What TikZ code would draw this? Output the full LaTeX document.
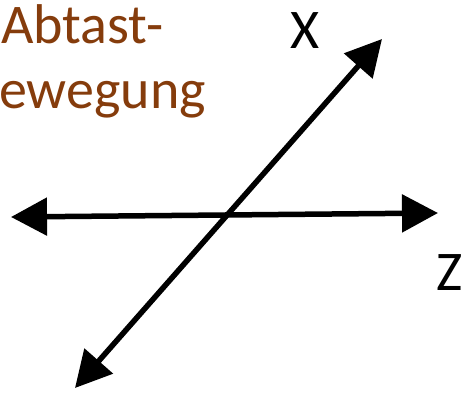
\documentclass[tikz,border=0pt]{standalone}
\usepackage{fontspec}
\setmainfont{Carlito}
\usetikzlibrary{arrows.meta}
\definecolor{abbraun}{RGB}{133,60,12}

\begin{document}
\begin{tikzpicture}[
    x=1pt, y=-1pt,
    achse/.style={line width=5.5pt, {Triangle[length=36pt,width=37pt]}-{Triangle[length=36pt,width=37pt]}},
    lab/.style={inner sep=0pt, anchor=base west, font=\fontsize{56}{67}\selectfont},
    titel/.style={lab, text=abbraun},
]
\useasboundingbox (0,0) rectangle (464,392);

% Achsenenden
\coordinate (zl) at (11,217);
\coordinate (zr) at (438,213);
\coordinate (xu) at (75,388);
\coordinate (xo) at (382,39);

% Achsen
\draw[achse] (zl) -- (zr);
\draw[achse] (xu) -- (xo);

% Beschriftung
\node[lab] (xlab) at (290,48) {X};
\node[lab] (zlab) at (436,290) {Z};
\node[titel] (t1) at (1,43) {Abtast-};
\node[titel] (t2) at (-1,108) {ewegung};
\end{tikzpicture}
\end{document}
